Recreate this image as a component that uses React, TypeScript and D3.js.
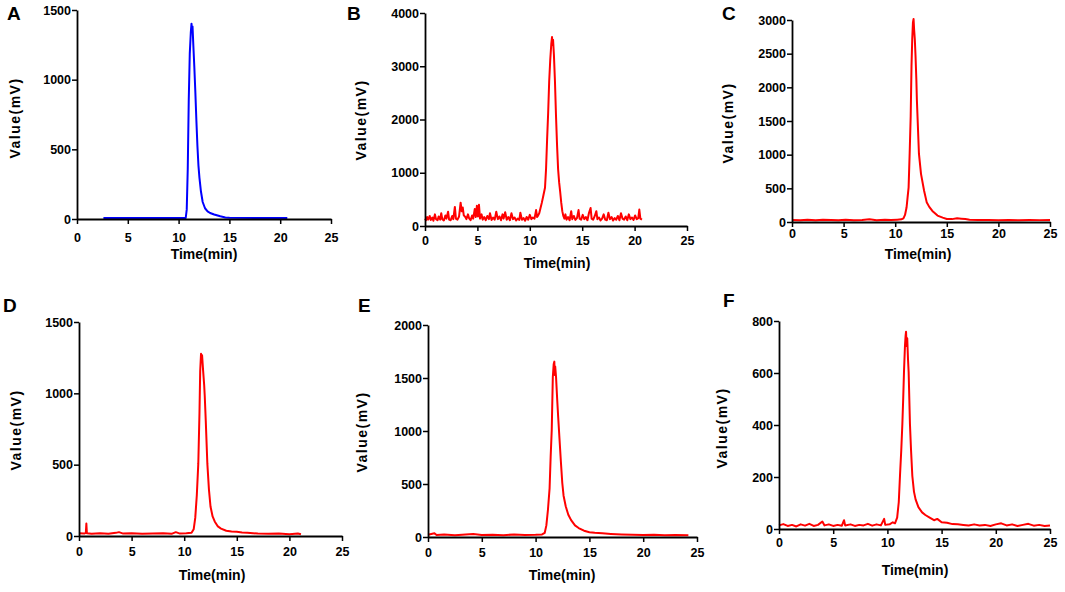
import { useEffect, useRef } from 'react';
import * as d3 from 'd3';

type Pt = [number, number];

// chromatogram traces: [time (min), value (mV)]
const seriesA: Pt[] = [
  [2.6, 0], [6, 0], [10.7, 0], [10.8, 60], [10.9, 350], [11.0, 850], [11.1, 1180], [11.2, 1330],
  [11.27, 1395], [11.32, 1345], [11.37, 1375], [11.45, 1240], [11.55, 1080], [11.65, 900], [11.75, 700],
  [11.85, 520], [11.95, 380], [12.05, 290], [12.2, 190], [12.37, 115], [12.6, 70], [12.85, 48],
  [13.1, 36], [13.5, 25], [14.1, 12], [14.6, 4], [15, 1], [20.7, 0],
];

const seriesB: Pt[] = [
  [0, 120], [0.1, 90], [0.2, 150], [0.3, 100], [0.45, 170], [0.55, 95], [0.7, 140], [0.8, 80],
  [0.95, 200], [1.05, 110], [1.2, 90], [1.3, 160], [1.45, 100], [1.55, 220], [1.65, 110], [1.8, 85],
  [1.95, 180], [2.05, 120], [2.2, 250], [2.3, 100], [2.45, 90], [2.6, 170], [2.7, 110], [2.85, 340],
  [2.95, 120], [3.1, 100], [3.25, 160], [3.4, 420], [3.5, 260], [3.6, 330], [3.7, 180], [3.85, 150],
  [3.95, 110], [4.1, 200], [4.2, 130], [4.35, 90], [4.5, 180], [4.6, 120], [4.75, 300], [4.85, 150],
  [4.95, 360], [5.05, 160], [5.15, 380], [5.25, 120], [5.4, 200], [5.5, 100], [5.65, 150], [5.8, 90],
  [5.95, 170], [6.1, 110], [6.2, 220], [6.35, 95], [6.5, 140], [6.65, 100], [6.8, 250], [6.95, 110],
  [7.1, 160], [7.25, 90], [7.4, 200], [7.5, 120], [7.65, 240], [7.8, 100], [7.95, 150], [8.1, 90],
  [8.25, 220], [8.4, 110], [8.55, 140], [8.7, 85], [8.85, 120], [9.0, 95], [9.1, 230], [9.25, 100],
  [9.4, 130], [9.55, 80], [9.7, 150], [9.85, 100], [10.0, 190], [10.15, 110], [10.3, 140], [10.45, 120],
  [10.6, 280], [10.7, 150], [10.8, 180], [10.9, 220], [11.0, 300], [11.15, 420], [11.3, 560],
  [11.45, 700], [11.55, 1050], [11.65, 1600], [11.75, 2100], [11.85, 2700], [11.95, 3100],
  [12.05, 3400], [12.12, 3530], [12.18, 3380], [12.22, 3480], [12.3, 3200], [12.4, 2700], [12.5, 2050],
  [12.6, 1500], [12.7, 1050], [12.8, 800], [12.9, 620], [13.0, 420], [13.1, 260], [13.2, 170],
  [13.3, 120], [13.4, 200], [13.5, 100], [13.65, 150], [13.8, 90], [13.95, 260], [14.05, 110],
  [14.2, 170], [14.35, 95], [14.5, 130], [14.65, 280], [14.75, 120], [14.9, 100], [15.05, 190],
  [15.2, 110], [15.35, 150], [15.5, 90], [15.65, 230], [15.8, 320], [15.9, 120], [16.05, 100],
  [16.2, 170], [16.35, 260], [16.45, 110], [16.6, 140], [16.75, 85], [16.9, 120], [17.05, 200],
  [17.2, 100], [17.35, 90], [17.5, 230], [17.65, 110], [17.8, 150], [17.95, 85], [18.1, 130],
  [18.25, 100], [18.4, 170], [18.55, 90], [18.7, 220], [18.85, 120], [19.0, 100], [19.15, 160],
  [19.3, 90], [19.45, 200], [19.6, 110], [19.75, 140], [19.9, 95], [20.05, 180], [20.2, 110],
  [20.35, 130], [20.45, 290], [20.55, 120], [20.7, 100],
];

const seriesC: Pt[] = [
  [0, 15], [0.8, 10], [1.5, 18], [2.3, 12], [3.0, 20], [3.8, 14], [4.5, 10], [5.2, 18], [6.0, 12],
  [6.8, 16], [7.5, 25], [8.2, 12], [9.0, 18], [9.6, 14], [10.2, 20], [10.6, 25], [10.8, 40],
  [10.95, 90], [11.1, 200], [11.2, 350], [11.3, 500], [11.4, 1000], [11.5, 1550], [11.58, 2300],
  [11.65, 2700], [11.72, 2950], [11.78, 3000], [11.83, 2850], [11.9, 2700], [11.97, 2450],
  [12.05, 2100], [12.1, 1800], [12.2, 1400], [12.3, 1000], [12.5, 700], [12.8, 450], [13.05, 280],
  [13.3, 210], [13.6, 150], [14.1, 80], [14.6, 50], [15.0, 30], [15.5, 28], [16.0, 40], [16.4, 35],
  [16.8, 30], [17.2, 18], [18, 14], [19, 16], [20, 12], [21, 15], [22, 12], [23, 16], [24, 13], [25, 15],
];

const seriesD: Pt[] = [
  [0, 12], [0.5, 10], [0.65, 15], [0.7, 80], [0.75, 12], [1.2, 8], [2, 12], [2.8, 8], [3.5, 15],
  [3.8, 20], [4.2, 10], [5, 12], [6, 8], [7, 10], [8, 12], [8.8, 8], [9.2, 20], [9.6, 10], [10.2, 12],
  [10.7, 15], [10.9, 40], [11.05, 120], [11.2, 280], [11.34, 500], [11.45, 850], [11.52, 1150],
  [11.6, 1270], [11.66, 1240], [11.7, 1260], [11.8, 1150], [11.9, 1050], [11.95, 980], [12.05, 800],
  [12.2, 500], [12.35, 320], [12.5, 200], [12.7, 130], [12.9, 95], [13.2, 60], [13.5, 45], [14, 30],
  [14.5, 25], [15, 22], [15.5, 18], [16, 15], [17, 10], [18, 8], [19, 10], [20, 6], [20.8, 10], [21.1, 5],
];

const seriesE: Pt[] = [
  [0, 12], [0.6, 25], [0.8, 10], [1.5, 15], [2.5, 8], [3.5, 14], [4.2, 18], [5, 10], [6, 12], [7, 8],
  [8, 14], [9, 10], [10, 12], [10.6, 15], [10.85, 30], [11.0, 100], [11.15, 250], [11.3, 450],
  [11.4, 750], [11.5, 1000], [11.6, 1500], [11.68, 1620], [11.74, 1645], [11.78, 1520], [11.82, 1600],
  [11.9, 1500], [12.0, 1300], [12.1, 1120], [12.2, 950], [12.35, 700], [12.48, 500], [12.6, 380],
  [12.8, 280], [13.04, 200], [13.3, 150], [13.66, 100], [14.0, 75], [14.5, 50], [15, 35], [15.5, 30],
  [16.2, 25], [17, 20], [18, 15], [19, 12], [20, 10], [21, 12], [22, 8], [23, 10], [24.2, 8],
];

const seriesF: Pt[] = [
  [0, 10], [0.4, 15], [0.8, 8], [1.2, 12], [1.6, 6], [2.0, 14], [2.4, 9], [2.8, 16], [3.2, 8], [3.6, 12],
  [4.0, 25], [4.2, 10], [4.6, 14], [5.0, 8], [5.4, 12], [5.8, 9], [6.0, 30], [6.1, 10], [6.6, 14],
  [7.0, 8], [7.4, 12], [7.8, 10], [8.2, 16], [8.6, 9], [9.0, 14], [9.4, 10], [9.7, 35], [9.8, 12],
  [10.2, 14], [10.5, 22], [10.7, 18], [10.9, 40], [11.05, 100], [11.16, 200], [11.28, 300], [11.38, 400],
  [11.46, 500], [11.53, 600], [11.62, 700], [11.68, 740], [11.72, 755], [11.77, 700], [11.83, 730],
  [11.9, 650], [11.96, 600], [12.08, 400], [12.18, 300], [12.3, 200], [12.45, 140], [12.6, 110],
  [12.86, 80], [13.2, 60], [13.5, 50], [13.9, 40], [14.3, 30], [14.6, 35], [15, 22], [15.5, 20], [16, 15],
  [16.5, 14], [17, 12], [17.5, 10], [18, 14], [18.5, 10], [19, 12], [19.5, 8], [20, 14], [20.5, 18],
  [21, 10], [21.5, 14], [22, 8], [22.5, 12], [23, 16], [23.5, 9], [24, 12], [24.5, 8], [25, 10],
];

const xTicks = [0, 5, 10, 15, 20, 25];
const yTicksA = [0, 500, 1000, 1500];
const yTicksB = [0, 1000, 2000, 3000, 4000];
const yTicksC = [0, 500, 1000, 1500, 2000, 2500, 3000];
const yTicksD = [0, 500, 1000, 1500];
const yTicksE = [0, 500, 1000, 1500, 2000];
const yTicksF = [0, 200, 400, 600, 800];

const panelLetters = ['A', 'B', 'C', 'D', 'E', 'F'];
const xTitle = 'Time(min)';
const yTitle = 'Value(mV)';

// page layout of each panel, in pixels
const panels = [
  { data: seriesA, yTicks: yTicksA, color: '#0000ff', x0: 77, x1: 331, yTop: 10, yBot: 219, xPad: 9, letter: [7, 20], xt: [204, 259], yt: [20, 118] },
  { data: seriesB, yTicks: yTicksB, color: '#ff0000', x0: 425, x1: 687, yTop: 13, yBot: 226, xPad: 5, letter: [347, 20], xt: [557, 268], yt: [366, 120] },
  { data: seriesC, yTicks: yTicksC, color: '#ff0000', x0: 792, x1: 1050, yTop: 20, yBot: 222, xPad: 2, letter: [722, 20], xt: [918, 259], yt: [733, 123] },
  { data: seriesD, yTicks: yTicksD, color: '#ff0000', x0: 79, x1: 342, yTop: 322, yBot: 536, xPad: 6, letter: [3, 312], xt: [212, 580], yt: [21, 430] },
  { data: seriesE, yTicks: yTicksE, color: '#ff0000', x0: 428, x1: 697, yTop: 325, yBot: 537, xPad: 6, letter: [358, 312], xt: [562, 580], yt: [367, 432] },
  { data: seriesF, yTicks: yTicksF, color: '#ff0000', x0: 779, x1: 1050, yTop: 321, yBot: 529, xPad: 4, letter: [723, 307], xt: [915, 575], yt: [727, 428] },
];

const font = '"Liberation Sans", Arial, sans-serif';

export default function App() {
  const svgRef = useRef<SVGSVGElement>(null);

  useEffect(() => {
    document.body.style.margin = '0';
    const svg = d3.select(svgRef.current);
    svg.selectAll('*').remove();

    panels.forEach((p, i) => {
      const yMax = p.yTicks[p.yTicks.length - 1];
      const x = d3.scaleLinear().domain([0, 25]).range([p.x0, p.x1]);
      const y = d3.scaleLinear().domain([0, yMax]).range([p.yBot, p.yTop]);

      const g = svg.append('g');

      // trace
      const line = d3.line<Pt>()
        .x(d => x(d[0]))
        .y(d => y(d[1]) - 1);

      g.append('path')
        .datum(p.data)
        .attr('fill', 'none')
        .attr('stroke', p.color)
        .attr('stroke-width', 2)
        .attr('stroke-linejoin', 'round')
        .attr('d', line);

      // axes
      const xAxis = g.append('g')
        .attr('transform', `translate(0,${p.yBot})`)
        .call(d3.axisBottom(x).tickValues(xTicks).tickSize(5).tickSizeOuter(0).tickPadding(p.xPad));

      const yAxis = g.append('g')
        .attr('transform', `translate(${p.x0},0)`)
        .call(d3.axisLeft(y).tickValues(p.yTicks).tickSize(5).tickSizeOuter(0).tickPadding(1).tickFormat(d3.format('d')));

      [xAxis, yAxis].forEach(ax => {
        ax.select('.domain').attr('stroke', '#000').attr('stroke-width', 1.8);
        ax.selectAll('.tick line').attr('stroke', '#000').attr('stroke-width', 1.5);
        ax.selectAll('text')
          .attr('fill', '#000')
          .style('font-family', font)
          .style('font-size', '12.5px')
          .style('font-weight', 'bold');
      });

      // panel letter
      g.append('text')
        .attr('x', p.letter[0])
        .attr('y', p.letter[1])
        .style('font-family', font)
        .style('font-size', '19px')
        .style('font-weight', 'bold')
        .text(panelLetters[i]);

      // x title
      g.append('text')
        .attr('x', p.xt[0])
        .attr('y', p.xt[1])
        .attr('text-anchor', 'middle')
        .style('font-family', font)
        .style('font-size', '14px')
        .style('font-weight', 'bold')
        .text(xTitle);

      // y title
      g.append('text')
        .attr('transform', `translate(${p.yt[0]},${p.yt[1]}) rotate(-90)`)
        .attr('text-anchor', 'middle')
        .style('font-family', font)
        .style('font-size', '14px')
        .style('font-weight', 'bold')
        .style('letter-spacing', '1.5px')
        .text(yTitle);
    });
  }, []);

  return <svg ref={svgRef} width={1065} height={592} style={{ display: 'block', background: '#fff' }} />;
}
